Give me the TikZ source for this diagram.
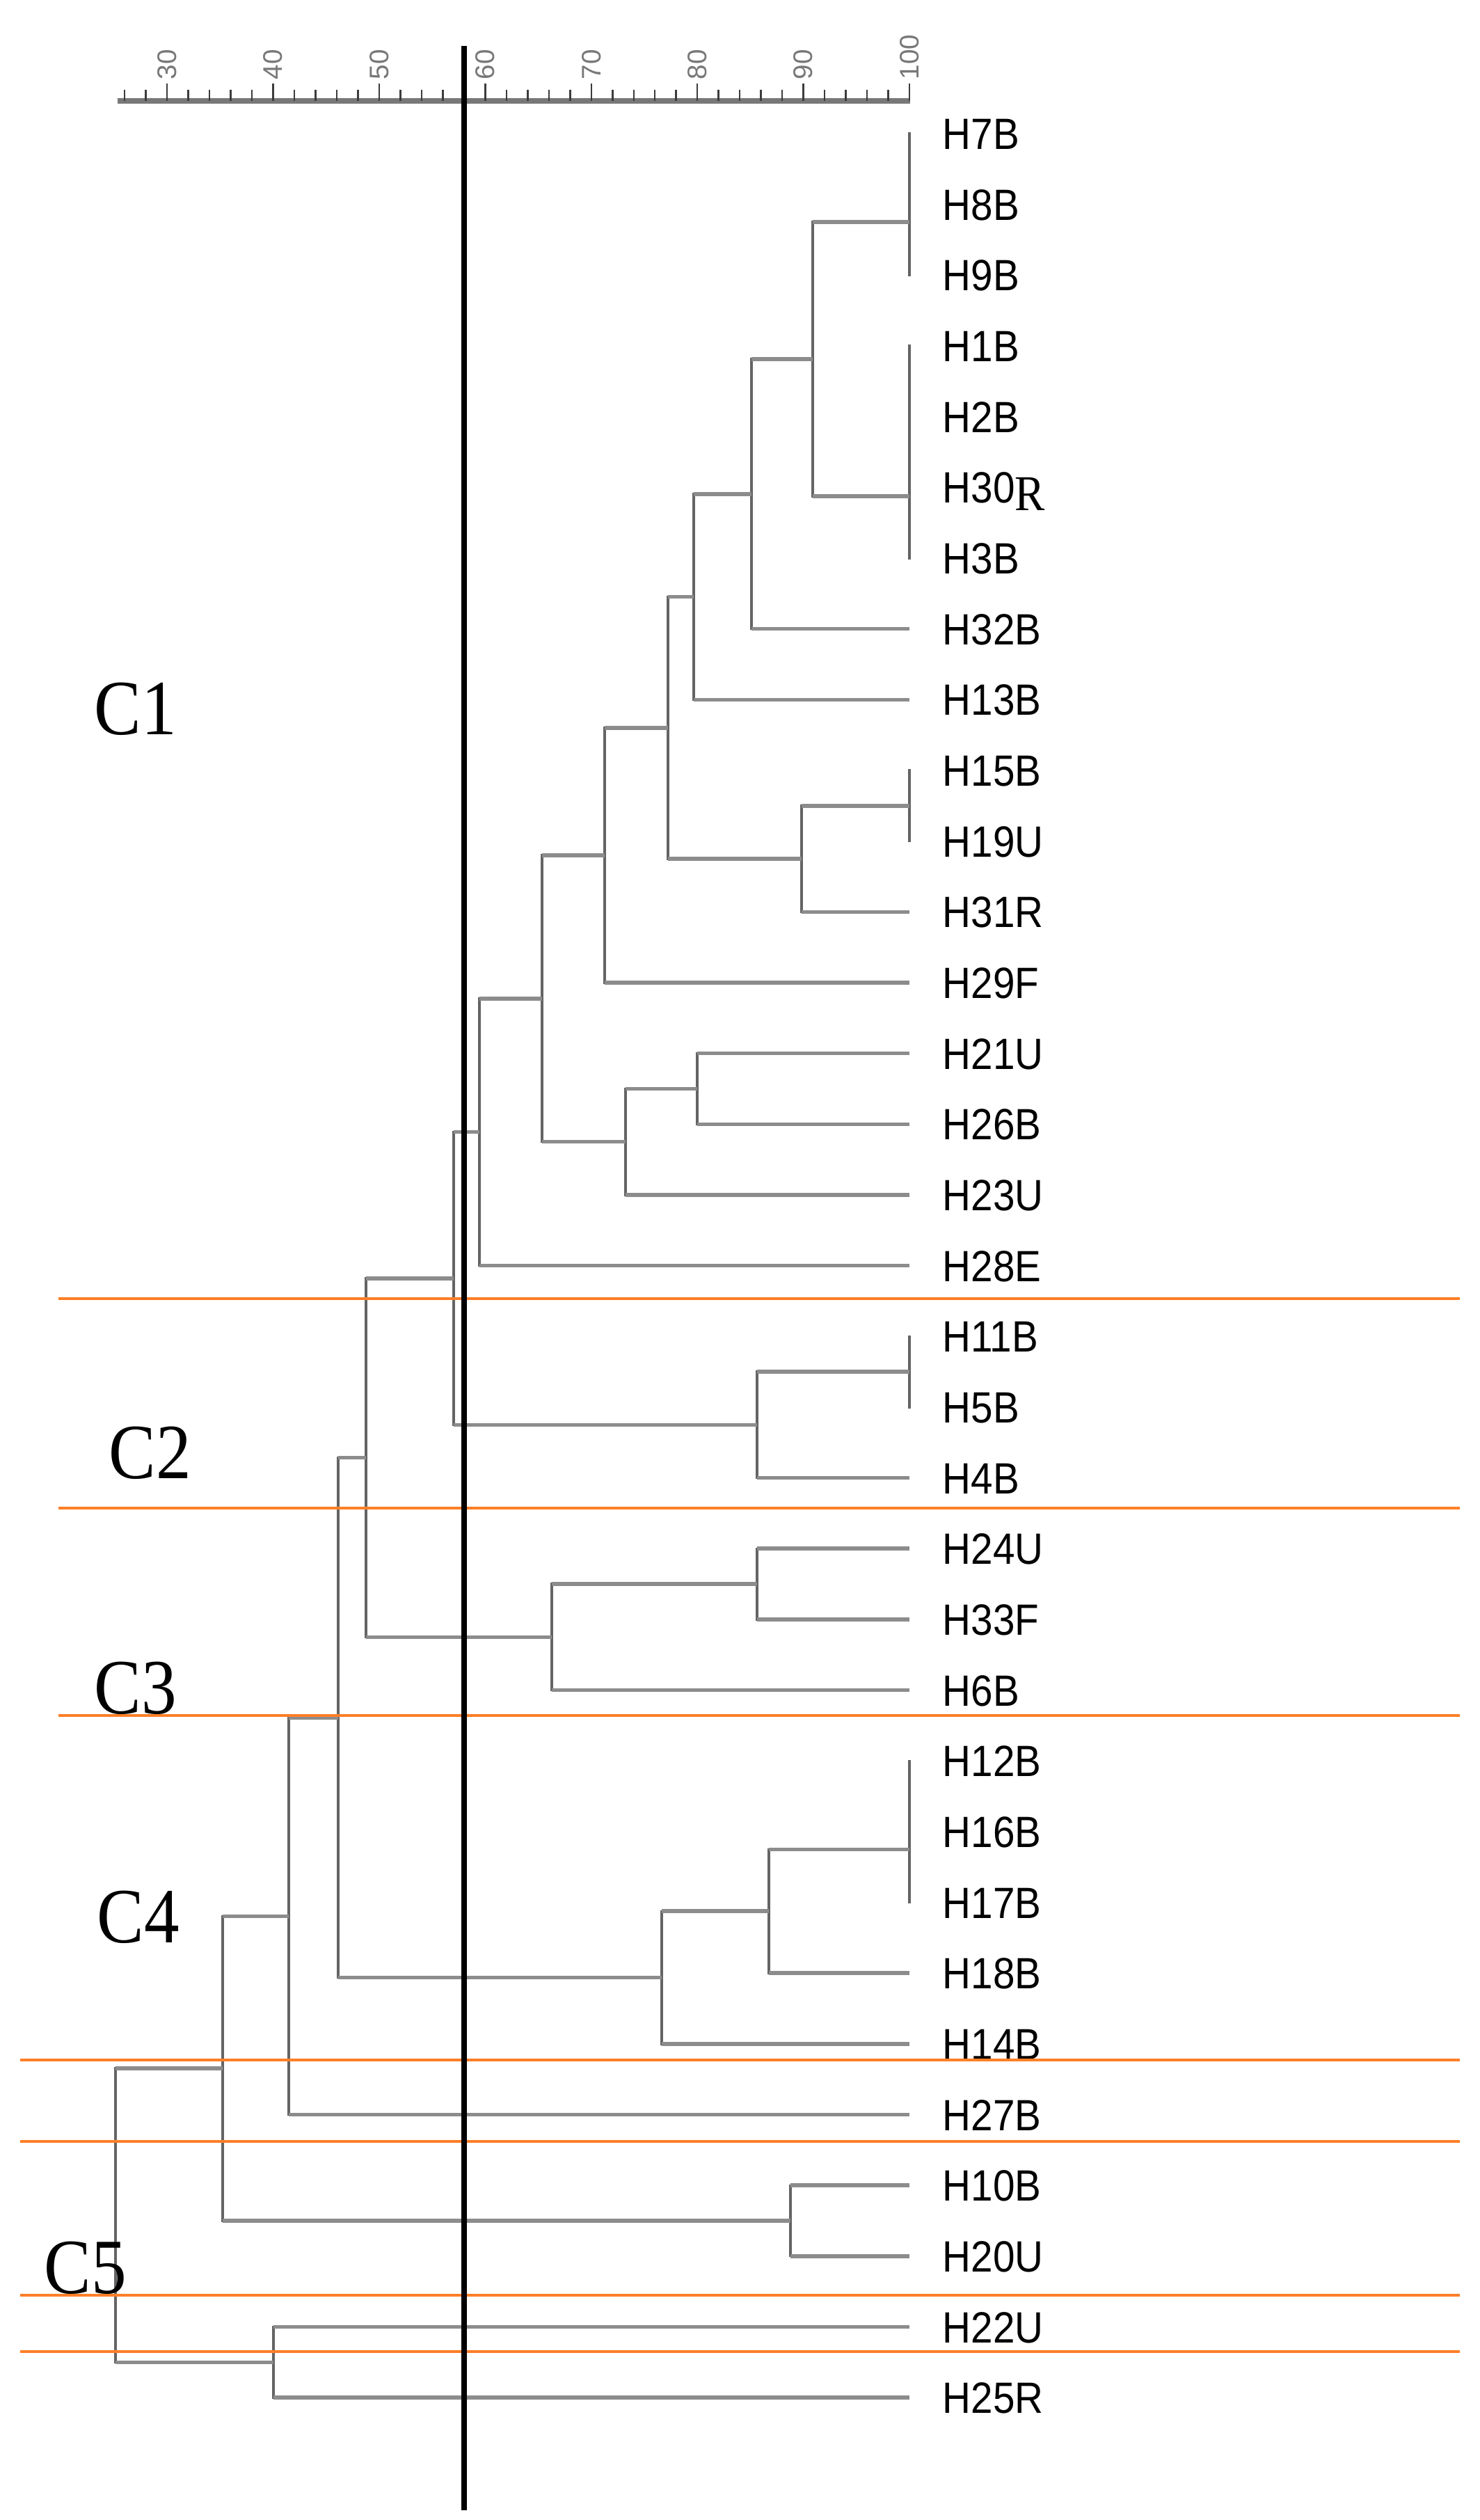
\documentclass[tikz,border=0pt]{standalone}
\usepackage{fontspec}
\setmainfont{Liberation Sans}
\newfontfamily\serf{Liberation Serif}
\usepackage{graphicx}
\usepackage{tikz}
\usetikzlibrary{positioning}
\definecolor{brgray}{RGB}{140,140,140}
\definecolor{brdark}{RGB}{100,100,100}
\definecolor{axgray}{RGB}{120,120,120}
\definecolor{tickgray}{RGB}{60,60,60}
\definecolor{cutorange}{RGB}{255,127,39}
\tikzstyle{hline} = [draw=brgray, line width=0.055cm]
\tikzstyle{vline} = [draw=brdark, line width=0.033cm, line cap=rect]
\tikzstyle{leaf} = [inner sep=0pt, text height=0.45cm, text depth=0pt, font=\fontsize{17.9}{20}\selectfont]
\tikzstyle{clab} = [inner sep=0pt, anchor=base west, font=\serf\fontsize{32}{32}\selectfont]
\tikzstyle{axlab} = [inner sep=0pt, anchor=west, rotate=90, text=axgray, font=\fontsize{11}{12}\selectfont]
\tikzstyle{axline} = [draw=axgray, line width=0.075cm]
\tikzstyle{tick} = [draw=tickgray, line width=0.025cm]
\tikzstyle{sepline} = [draw=cutorange, line width=0.035cm]
\tikzstyle{cutline} = [draw=black, line width=0.08cm]
\newcommand{\squeeze}[1]{\scalebox{0.9}[1]{#1}}
\newcommand{\lowR}{\raisebox{-0.11cm}{\serf\fontsize{20.5}{21}\selectfont R}}
\newcommand{\elbow}[2]{\draw[vline] (#1) -- (#1 |- #2); \draw[hline] (#1 |- #2) -- (#2);}
\newcommand{\clade}[3]{\elbow{#1}{#2}\elbow{#1}{#3}}

\begin{document}
\begin{tikzpicture}
  \path[use as bounding box, fill=white] (0,0) rectangle (21.26,-36.21);
  % similarity scale
  \coordinate (ax0) at (1.69,-1.45);
  \coordinate (ax1) at (13.08,-1.45);
  \draw[axline] (ax0) -- (ax1);
  \foreach \v in {26,28,...,98}
    \draw[tick] ({13.07-(100-\v)*0.1524},-1.45) -- ++(0,0.16);
  \foreach \v in {30,40,...,100} {
    \draw[tick] ({13.07-(100-\v)*0.1524},-1.45) -- ++(0,0.25);
    \node[axlab] (s\v) at ({13.07-(100-\v)*0.1524},-1.15) {\v};
  }
  % isolates
  \foreach \name [count=\i from 0] in {H7B,H8B,H9B,H1B,H2B,{H30\lowR},H3B,H32B,H13B,H15B,H19U,H31R,H29F,H21U,H26B,H23U,H28E,H11B,H5B,H4B,H24U,H33F,H6B,H12B,H16B,H17B,H18B,H14B,H27B,H10B,H20U,H22U,H25R} {
    \coordinate (t\i) at (13.07,{-(1.92+1.0166*\i)});
    \node[leaf, right=0.47cm of t\i] (l\i) {\squeeze{\name}};
  }
  % merge points
  \coordinate (a1) at (13.07,-2.4285);
  \coordinate (a2) at (13.07,-3.191);
  \coordinate (b1) at (13.07,-5.478);
  \coordinate (b2) at (13.07,-6.2405);
  \coordinate (b3) at (13.07,-7.130);
  \coordinate (ab) at (11.68,-5.1605);
  \coordinate (c1) at (10.80,-7.098);
  \coordinate (c2) at (9.97,-8.576);
  \coordinate (d1) at (13.07,-11.5775);
  \coordinate (d2) at (11.52,-12.340);
  \coordinate (e1) at (9.60,-10.458);
  \coordinate (e2) at (8.69,-12.289);
  \coordinate (f1) at (10.02,-15.644);
  \coordinate (f2) at (8.99,-16.4065);
  \coordinate (g1) at (7.79,-14.348);
  \coordinate (g2) at (6.89,-16.267);
  \coordinate (h1) at (13.07,-19.7105);
  \coordinate (h2) at (10.88,-20.473);
  \coordinate (k1) at (6.52,-18.370);
  \coordinate (m1) at (10.88,-22.7605);
  \coordinate (m2) at (7.93,-23.523);
  \coordinate (k2) at (5.26,-20.9465);
  \coordinate (p1) at (13.07,-25.810);
  \coordinate (p2) at (13.07,-26.5725);
  \coordinate (p3) at (11.05,-27.462);
  \coordinate (p4) at (9.51,-28.415);
  \coordinate (k3) at (4.86,-24.681);
  \coordinate (k4) at (4.15,-27.533);
  \coordinate (q1) at (11.36,-31.9095);
  \coordinate (k5) at (3.20,-29.721);
  \coordinate (r1) at (3.93,-33.943);
  \coordinate (root) at (1.66,-31.832);
  % dendrogram
  \clade{a1}{t0}{t1} \clade{a2}{a1}{t2}
  \clade{b1}{t3}{t4} \clade{b2}{b1}{t5} \clade{b3}{b2}{t6}
  \clade{ab}{a2}{b3} \clade{c1}{ab}{t7} \clade{c2}{c1}{t8}
  \clade{d1}{t9}{t10} \clade{d2}{d1}{t11}
  \clade{e1}{c2}{d2} \clade{e2}{e1}{t12}
  \clade{f1}{t13}{t14} \clade{f2}{f1}{t15}
  \clade{g1}{e2}{f2} \clade{g2}{g1}{t16}
  \clade{h1}{t17}{t18} \clade{h2}{h1}{t19}
  \clade{k1}{g2}{h2}
  \clade{m1}{t20}{t21} \clade{m2}{m1}{t22}
  \clade{k2}{k1}{m2}
  \clade{p1}{t23}{t24} \clade{p2}{p1}{t25} \clade{p3}{p2}{t26} \clade{p4}{p3}{t27}
  \clade{k3}{k2}{p4} \clade{k4}{k3}{t28}
  \clade{q1}{t29}{t30} \clade{k5}{k4}{q1}
  \clade{r1}{t31}{t32} \clade{root}{k5}{r1}
  % cluster borders
  \foreach \yy/\xx in {18.66/0.84, 21.67/0.84, 24.65/0.84, 29.60/0.29, 30.77/0.29, 32.98/0.29, 33.79/0.29}
    \draw[sepline] (\xx,-\yy) -- (20.98,-\yy);
  % cut-off
  \coordinate (cuttop) at (6.67,-0.66);
  \coordinate (cutbot) at (6.67,-36.07);
  \draw[cutline] (cuttop) -- (cutbot);
  % clusters
  \node[clab] (C1) at (1.35,-10.56) {\squeeze{C1}};
  \node[clab] (C2) at (1.56,-21.24) {\squeeze{C2}};
  \node[clab] (C3) at (1.35,-24.62) {\squeeze{C3}};
  \node[clab] (C4) at (1.39,-27.91) {\squeeze{C4}};
  \node[clab] (C5) at (0.63,-32.95) {\squeeze{C5}};
\end{tikzpicture}
\end{document}
